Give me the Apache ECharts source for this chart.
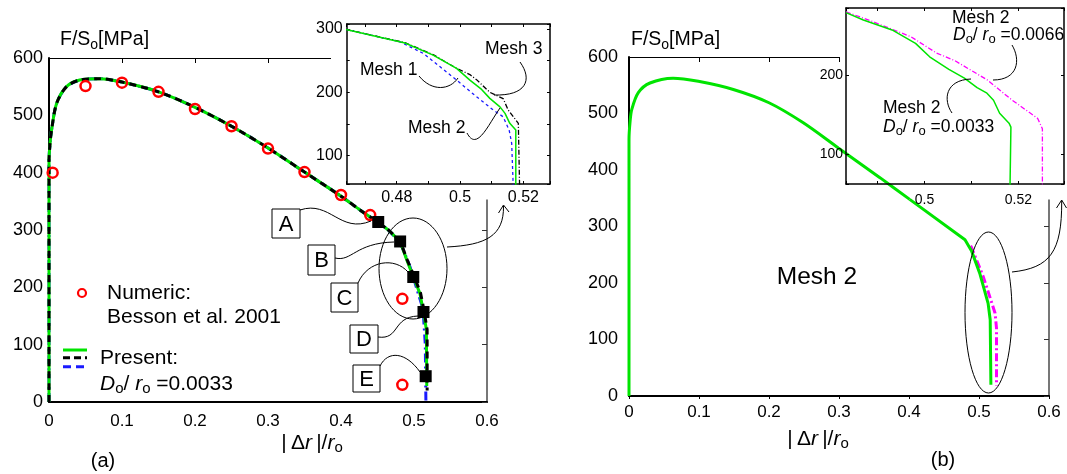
<!DOCTYPE html>
<html><head><meta charset="utf-8">
<script src="https://cdn.jsdelivr.net/npm/echarts@6/dist/echarts.min.js"></script>
<style>html,body{margin:0;padding:0;background:#fff}#c{width:1067px;height:474px}</style>
</head><body><div id="c"></div>
<script>
// ===== Panel (a) main plot =====
const aBodyX = [0, 0, 0.0015, 0.0037, 0.0105, 0.024, 0.042, 0.07, 0.1, 0.15, 0.2, 0.25, 0.3, 0.35, 0.4, 0.426, 0.451, 0.464];
const aBodyY = [0, 420, 452, 476, 521, 550, 561.5, 564, 558, 541, 514, 481, 443, 401, 359, 335, 313, 301];
const aMesh2TailX = [0.481, 0.49, 0.499, 0.508, 0.513, 0.517, 0.5175];
const aMesh2TailY = [280, 248, 218, 190, 157, 126, 28];
const aMesh3TailX = [0.481, 0.49, 0.5, 0.509, 0.514, 0.518, 0.518];
const aMesh3TailY = [281, 250, 220, 190, 158, 126, 20];
const aMesh1TailX = [0.481, 0.4945, 0.5045, 0.5105, 0.513, 0.5155, 0.5163];
const aMesh1TailY = [279, 236, 195, 170, 150, 100, 0];
const bessonX = [0.005, 0.05, 0.1, 0.15, 0.2, 0.25, 0.3, 0.35, 0.4, 0.44, 0.484, 0.484];
const bessonY = [400, 551, 557, 541, 511, 481, 442, 401, 361, 326, 180, 30];
const stageLabels = ['A', 'B', 'C', 'D', 'E'];
const stageX = [0.451, 0.481, 0.499, 0.513, 0.516];
const stageY = [314, 280, 218, 157, 45];
const mainXTicks = [0, 0.1, 0.2, 0.3, 0.4, 0.5, 0.6];
const mainYTicks = [0, 100, 200, 300, 400, 500, 600];

// ===== Panel (a) inset =====
const iaMesh2X = [0.464, 0.4826, 0.4915, 0.4989, 0.5031, 0.5068, 0.5094, 0.5126, 0.5142, 0.5157, 0.5176, 0.5176];
const iaMesh2Y = [299.4, 278, 258.8, 237.8, 219.3, 204.6, 190.4, 177, 166.7, 150.9, 140.3, 50];
const iaMesh1X = [0.464, 0.481, 0.4884, 0.4937, 0.4989, 0.5052, 0.5105, 0.5136, 0.5155, 0.5163, 0.5168];
const iaMesh1Y = [299.4, 279.8, 261.5, 240.3, 219.3, 193, 171.9, 161.3, 140.3, 119.3, 50];
const iaMesh3X = [0.464, 0.4826, 0.4915, 0.4989, 0.5031, 0.5052, 0.5094, 0.5136, 0.5152, 0.5184, 0.5188];
const iaMesh3Y = [299.4, 278.5, 259.5, 238, 228, 220, 200, 190, 172, 151, 50];
const iaXLabels = [0.48, 0.5, 0.52];
const iaYLabels = [100, 200, 300];

// ===== Panel (b) main plot =====
const bBodyX = [0, 0, 0.0015, 0.0039, 0.0133, 0.03, 0.063, 0.099, 0.149, 0.2, 0.249, 0.299, 0.359, 0.401];
const bBodyY = [0, 454, 485, 507, 537, 554, 562.6, 557, 542.5, 519, 483.5, 439, 386, 348];
const bMesh2TailX = [0.48, 0.4896, 0.501, 0.513, 0.516, 0.517];
const bMesh2TailY = [276.6, 256, 217.5, 164, 135, 20];
const bD66X = [0.488, 0.4896, 0.506, 0.523, 0.525, 0.525];
const bD66Y = [266, 262, 211.5, 146.6, 120, 18];

// ===== Panel (b) inset =====
const ibMesh2X = [0.4833, 0.487, 0.4931, 0.4981, 0.5011, 0.5052, 0.5085, 0.5112, 0.5133, 0.5147, 0.516, 0.518, 0.5184, 0.5182];
const ibMesh2Y = [279, 269.6, 257, 240, 223, 207, 196, 184, 177, 168, 151.5, 139, 134, 55];
const ibD66X = [0.4833, 0.489, 0.4971, 0.5025, 0.5065, 0.5133, 0.5187, 0.5241, 0.5251, 0.5251];
const ibD66Y = [280, 267.5, 248.5, 228, 218, 194, 168, 145, 132, 55];
const ibXLabels = [0.5, 0.52];
const ibYLabels = [100, 200];

// ---------------------------------------------------------------
const FONT = '"Liberation Sans", Arial, Helvetica, sans-serif';
const GREEN = '#00e400', BLUE = '#1a1aff', BLACK = '#000000', MAGENTA = '#ff00ff', RED = '#ff0000';
const pairs = (xs, ys) => xs.map((x, i) => [x, ys[i]]);
const only = list => v => { for (const t of list) if (Math.abs(v - t) < 1e-7) return String(t); return ''; };
const last = a => a[a.length - 1];

const aBody = pairs(aBodyX, aBodyY);
const aJoin = [last(aBodyX), last(aBodyY)];
const bBody = pairs(bBodyX, bBodyY);
const bJoin = [last(bBodyX), last(bBodyY)];

function xAx(gi, pos, min, max, extra) {
  return Object.assign({
    gridIndex: gi, type: 'value', position: pos, min, max,
    axisLine: { show: true, onZero: false, lineStyle: { color: '#000', width: 1 } },
    axisTick: { show: false }, axisLabel: { show: false }, splitLine: { show: false }
  }, extra);
}
const yAx = xAx;
const lbl = (size, margin, fmt) => Object.assign({ show: true, fontSize: size, fontFamily: FONT, color: '#000', margin }, fmt ? { formatter: fmt } : {});
const inTick = (len, color) => ({ show: true, inside: true, length: len, lineStyle: { color: color || '#000', width: 1 } });
const frameLine = (w, c) => ({ show: true, onZero: false, lineStyle: { color: c || '#000', width: w } });
const mainStep = mainXTicks[1] - mainXTicks[0];
const mainYStep = mainYTicks[1] - mainYTicks[0];
const mx0 = mainXTicks[0], mx1 = last(mainXTicks), my0 = mainYTicks[0], my1 = last(mainYTicks);

const xAxis = [
  xAx(0, 'bottom', mx0, mx1, { interval: mainStep, axisLine: frameLine(2), axisLabel: lbl(17, 11) }),
  xAx(0, 'top', mx0, mx1, { interval: mainStep, axisTick: inTick(5) }),
  xAx(1, 'bottom', 0.4642, 0.5284, { z: 7, splitNumber: 6, axisLine: frameLine(1.5), axisTick: inTick(3), axisLabel: lbl(16, 6, only(iaXLabels)) }),
  xAx(1, 'top', 0.4642, 0.5284, { z: 7, splitNumber: 6, axisLine: frameLine(1.5), axisTick: inTick(3) }),
  xAx(2, 'bottom', mx0, mx1, { interval: mainStep, axisLine: frameLine(2), axisTick: { show: true, length: 3, lineStyle: { color: '#000' } }, axisLabel: lbl(17, 8) }),
  xAx(2, 'top', mx0, mx1, { interval: mainStep, axisTick: inTick(5) }),
  xAx(3, 'bottom', 0.4833, 0.5297, { z: 7, splitNumber: 4, axisLine: frameLine(1.5), axisTick: inTick(3), axisLabel: lbl(14, 9, only(ibXLabels)) }),
  xAx(3, 'top', 0.4833, 0.5297, { z: 7, splitNumber: 4, axisLine: frameLine(1.5), axisTick: inTick(3) })
];
const yAxis = [
  yAx(0, 'left', my0, my1, { interval: mainYStep, axisLine: frameLine(2), axisLabel: lbl(18, 6) }),
  yAx(0, 'right', my0, my1, { interval: mainYStep, axisLine: frameLine(2, '#777'), axisTick: inTick(5, '#333') }),
  yAx(1, 'left', 55, 308, { z: 7, splitNumber: 5, axisLine: frameLine(1.5), axisTick: inTick(3), axisLabel: lbl(16, 4, only(iaYLabels)) }),
  yAx(1, 'right', 55, 308, { z: 7, splitNumber: 5, axisLine: frameLine(1.5), axisTick: inTick(3) }),
  yAx(2, 'left', my0, my1, { interval: mainYStep, axisLine: frameLine(2), axisLabel: lbl(18, 11) }),
  yAx(2, 'right', my0, my1, { interval: mainYStep, axisLine: frameLine(2, '#777'), axisTick: inTick(5, '#333') }),
  yAx(3, 'left', 62, 284.8, { z: 7, splitNumber: 2, axisLine: frameLine(1.5), axisTick: inTick(3), axisLabel: lbl(14, 3, only(ibYLabels)) }),
  yAx(3, 'right', 62, 284.8, { z: 7, splitNumber: 2, axisLine: frameLine(1.5), axisTick: inTick(3) })
];

function line(xi, yi, data, color, width, type, z, smooth) {
  return { type: 'line', xAxisIndex: xi, yAxisIndex: yi, data, showSymbol: false, symbol: 'none', z,
    smooth: smooth || false,
    lineStyle: { color, width, type: type || 'solid', cap: 'butt' }, silent: true, animation: false };
}

const series = [
  // panel (a) main: shared body (smooth) + three tails
  line(0, 0, aBody, BLUE, 3, [9, 4, 2, 4], 2, 0.3),
  line(0, 0, [aJoin].concat(pairs(aMesh1TailX, aMesh1TailY)), BLUE, 3, [9, 4, 2, 4], 2),
  line(0, 0, aBody, GREEN, 3, 'solid', 3, 0.3),
  line(0, 0, [aJoin].concat(pairs(aMesh2TailX, aMesh2TailY)), GREEN, 3, 'solid', 3),
  line(0, 0, aBody, BLACK, 3, [7, 5], 4, 0.3),
  line(0, 0, [aJoin].concat(pairs(aMesh3TailX, aMesh3TailY)), BLACK, 3, [7, 5], 4),
  { type: 'scatter', xAxisIndex: 0, yAxisIndex: 0, data: pairs(bessonX, bessonY), symbol: 'circle', symbolSize: 10, z: 5,
    itemStyle: { color: 'rgba(255,255,255,0)', borderColor: RED, borderWidth: 2.5, opacity: 1 } },
  { type: 'scatter', xAxisIndex: 0, yAxisIndex: 0, data: stageX.map((x, i) => ({ name: stageLabels[i], value: [x, stageY[i]] })), symbol: 'rect', symbolSize: 12, z: 6,
    itemStyle: { color: BLACK, opacity: 1 } },
  // panel (a) inset
  line(2, 2, pairs(iaMesh1X, iaMesh1Y), BLUE, 1.3, [3, 3], 8),
  line(2, 2, pairs(iaMesh3X, iaMesh3Y), BLACK, 1.3, [5, 2, 1, 2], 9),
  line(2, 2, pairs(iaMesh2X, iaMesh2Y), GREEN, 1.5, 'solid', 10),
  // panel (b) main
  line(4, 4, pairs(bD66X, bD66Y), MAGENTA, 3, [8, 3, 2, 3], 2),
  line(4, 4, bBody, GREEN, 3, 'solid', 3, 0.3),
  line(4, 4, [bJoin].concat(pairs(bMesh2TailX, bMesh2TailY)), GREEN, 3, 'solid', 3),
  // panel (b) inset
  line(6, 6, pairs(ibD66X, ibD66Y), MAGENTA, 1.3, [5, 2, 1, 2], 8),
  line(6, 6, pairs(ibMesh2X, ibMesh2Y), GREEN, 1.5, 'solid', 9)
];

// ---------- annotations ----------
function rich(S) {
  const sub = Math.round(S * 0.72);
  return {
    n: { fontSize: S, fontFamily: FONT, fill: '#000', color: '#000', lineHeight: S + 4 },
    i: { fontSize: S, fontFamily: FONT, fontStyle: 'italic', fill: '#000', color: '#000', lineHeight: S + 4 },
    s: { fontSize: sub, fontFamily: FONT, fill: '#000', color: '#000', lineHeight: sub, verticalAlign: 'bottom' }
  };
}
function T(x, y, text, S, align) {
  align = align || 'left';
  return { type: 'text', x, y, z: 20, silent: true,
    style: { text, rich: rich(S), fontSize: S, fontFamily: FONT, fill: '#000', align, textAlign: align, verticalAlign: 'middle', textVerticalAlign: 'middle' } };
}
const thin = () => ({ stroke: '#000', lineWidth: 1, fill: null });
function bez(x1, y1, cpx1, cpy1, cpx2, cpy2, x2, y2) {
  return { type: 'bezierCurve', z: 20, silent: true, shape: { x1, y1, cpx1, cpy1, cpx2, cpy2, x2, y2 }, style: thin() };
}
function box(x, y, w, h, letter) {
  return [
    { type: 'rect', z: 20, silent: true, shape: { x, y, width: w, height: h }, style: { fill: '#fff', stroke: '#000', lineWidth: 1 } },
    T(x + w / 2, y + h / 2 + 1, letter, 22, 'center')
  ];
}
function seg(x1, y1, x2, y2, color, width, dash) {
  return { type: 'line', z: 20, silent: true, shape: { x1, y1, x2, y2 }, style: { stroke: color, lineWidth: width, lineDash: dash || null } };
}
const XNAME = '{n||\u2009Δ}{i|r}{n|\u2009|/}{i|r}{s|o}';

const graphic = [
  // white backgrounds of the insets (hide the main frames underneath)
  { type: 'rect', z: 1, silent: true, shape: { x: 331, y: 0, width: 240, height: 199.5 }, style: { fill: '#fff' } },
  { type: 'rect', z: 1, silent: true, shape: { x: 840, y: 0, width: 240, height: 199.5 }, style: { fill: '#fff' } },
  // panel (a) texts
  T(60, 40, '{n|F/S}{s|o}{n|[MPa]}', 19.5),
  T(312, 443, XNAME, 21, 'center'),
  T(103, 461, '(a)', 20, 'center'),
  { type: 'circle', z: 20, silent: true, shape: { cx: 82, cy: 293, r: 4 }, style: { fill: null, stroke: RED, lineWidth: 2.2 } },
  T(107, 293, 'Numeric:', 21),
  T(107, 317, 'Besson et al. 2001', 21),
  seg(63, 350, 87, 350, GREEN, 3),
  seg(63, 357.7, 87, 357.7, BLACK, 3, [7, 4]),
  seg(63, 366.7, 85, 366.7, BLUE, 3, [8, 5]),
  T(100, 358, 'Present:', 21),
  T(100, 384, '{i|D}{s|o}{n|/ }{i|r}{s|o}{n| =0.0033}', 21),
  ...box(272, 209, 28, 29, 'A'),
  ...box(308, 245, 27, 30, 'B'),
  ...box(331, 283, 27, 29, 'C'),
  ...box(350, 325, 28, 28, 'D'),
  ...box(353, 365, 27, 27, 'E'),
  bez(300, 210, 330, 200, 340, 234, 371, 221),
  bez(335, 258, 352, 262, 355, 243, 394, 242),
  bez(358, 283, 368, 260, 395, 257, 408, 272),
  bez(378, 337, 400, 340, 392, 317, 418, 316),
  bez(380, 366, 388, 350, 406, 352, 420, 372),
  { type: 'ellipse', z: 20, silent: true, shape: { cx: 413, cy: 268.5, rx: 34, ry: 50.5 }, style: thin() },
  bez(447, 247, 486, 245, 504, 236, 503.5, 206),
  { type: 'polyline', z: 20, silent: true, shape: { points: [[498.5, 213], [503.5, 205], [509, 212]] }, style: thin() },
  // inset (a) labels
  T(360, 70, 'Mesh 1', 17.5),
  T(485, 49, 'Mesh 3', 17.5),
  T(408, 128, 'Mesh 2', 17.5),
  bez(419, 76, 432, 92, 450, 90, 458, 78),
  bez(520, 62, 533, 80, 526, 96, 494, 95),
  bez(467, 133, 477, 152, 488, 125, 500, 108),
  // panel (b) texts
  T(631, 40, '{n|F/S}{s|o}{n|[MPa]}', 19.5),
  T(818, 439, XNAME, 21, 'center'),
  T(943, 460, '(b)', 20, 'center'),
  T(817, 277, 'Mesh 2', 24.5, 'center'),
  { type: 'ellipse', z: 20, silent: true, shape: { cx: 988.5, cy: 312.5, rx: 23.5, ry: 80.5 }, style: thin() },
  bez(1012, 272, 1050, 268, 1062, 252, 1061.7, 201),
  { type: 'polyline', z: 20, silent: true, shape: { points: [[1056.5, 208], [1061.7, 200], [1066.5, 208]] }, style: thin() },
  // inset (b) labels
  T(952, 18, 'Mesh 2', 17.5),
  T(953, 35, '{i|D}{s|o}{n|/ }{i|r}{s|o}{n| =0.0066}', 17.5),
  T(883, 108, 'Mesh 2', 17.5),
  T(883, 127, '{i|D}{s|o}{n|/ }{i|r}{s|o}{n| =0.0033}', 17.5),
  bez(1012, 45, 1021, 60, 1018, 80, 993, 80),
  bez(952, 113, 943, 100, 945, 80, 971, 79)
];

const chart = echarts.init(document.getElementById('c'), null, { renderer: 'canvas' });
chart.setOption({
  animation: false,
  backgroundColor: '#ffffff',
  textStyle: { fontFamily: FONT },
  grid: [
    { left: 49, top: 58, width: 438, height: 344, containLabel: false },
    { left: 346.7, top: 24, width: 203.3, height: 160, containLabel: false },
    { left: 629, top: 57, width: 420, height: 339, containLabel: false },
    { left: 846, top: 8, width: 229, height: 176, containLabel: false }
  ],
  xAxis, yAxis, series, graphic
});
</script>
</body></html>
